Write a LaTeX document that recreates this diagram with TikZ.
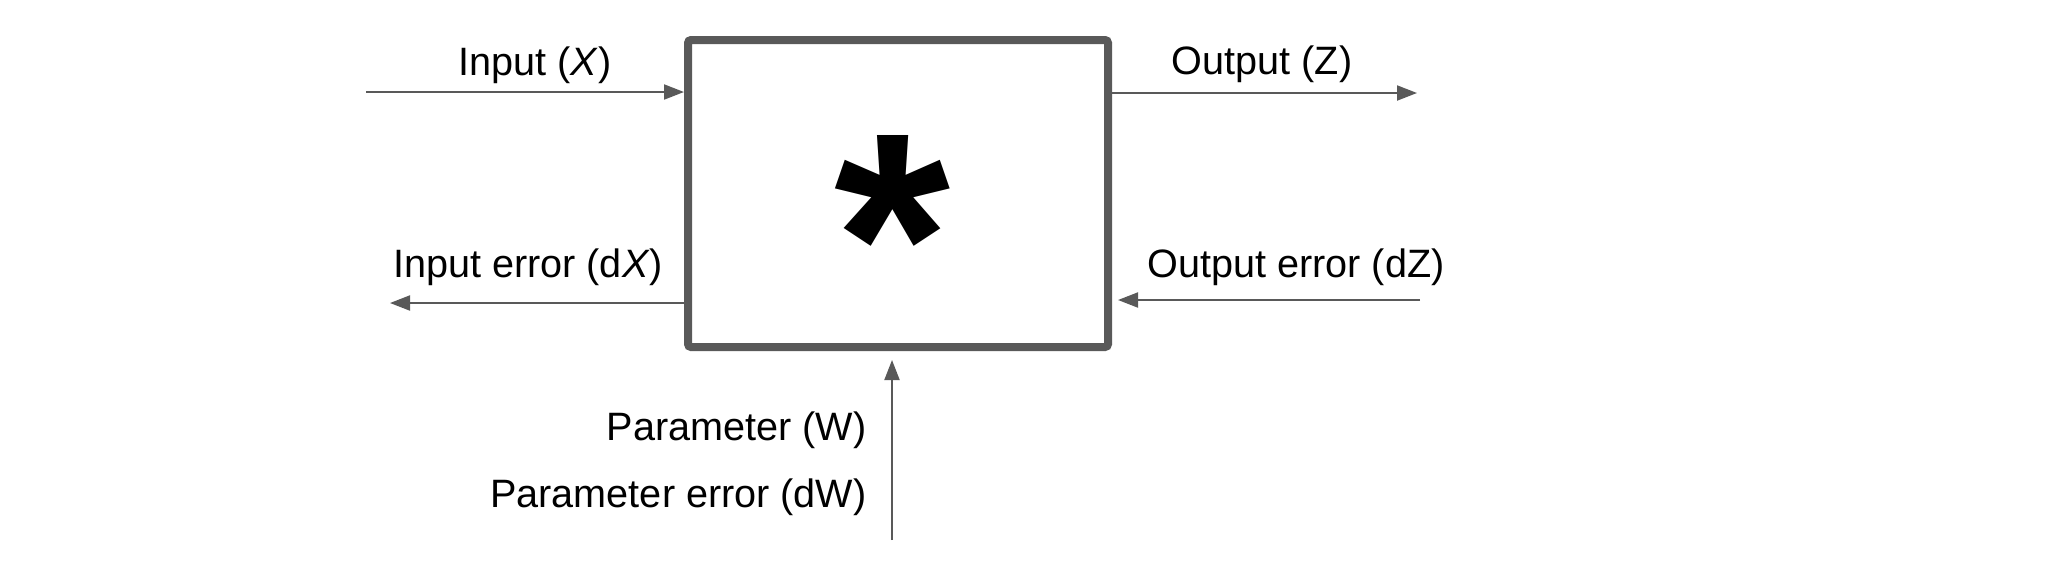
\documentclass[tikz,border=0pt]{standalone}
\usepackage{fontspec}
\setmainfont{Liberation Sans}
\usetikzlibrary{arrows.meta}
\definecolor{lg}{HTML}{595959}
\tikzset{
  lbl/.style={font=\fontsize{19.8}{23}\selectfont, inner sep=0pt, text=black},
  arr/.style={draw=lg, line width=1pt, -{Triangle[length=10pt,width=7.5pt]}},
  opbox/.style={draw=lg, line width=4pt, rounded corners=1.5pt, minimum width=210pt, minimum height=153.5pt, inner sep=0pt}
}
\begin{document}
\begin{tikzpicture}[x=0.5pt,y=-0.5pt]
\useasboundingbox (0,0) rectangle (2048,564);
\node[opbox] (box) at (898,193.5) {};
\node[inner sep=0pt, anchor=base, font=\bfseries\fontsize{149}{150}\selectfont] (star) at (892,340) {*};
% input
\coordinate (inS) at (366,92);
\draw[arr] (inS) -- (inS -| box.west);
\node[lbl, anchor=base] (inL) at (535,75) {Input (\textit{X})};
% input error
\coordinate (ieE) at (390,303);
\draw[arr] (ieE -| box.west) -- (ieE);
\node[lbl, anchor=base] (ieL) at (528,277) {Input error (d\textit{X})};
% output
\coordinate (outE) at (1417,93);
\draw[arr] (outE -| box.east) -- (outE);
\node[lbl, anchor=base] (outL) at (1262,74) {Output (Z)};
% output error
\coordinate (oeS) at (1420,300);
\draw[arr, shorten >=3pt] (oeS) -- (oeS -| box.east);
\node[lbl, anchor=base] (oeL) at (1296,277) {Output error (dZ)};
% parameter
\coordinate (pS) at (892,540);
\draw[arr, shorten >=4.5pt] (pS) -- (pS |- box.south);
\node[lbl, anchor=base east] (pL) at (867,440) {Parameter (W)};
\node[lbl, anchor=base east] (peL) at (867,507) {Parameter error (dW)};
\end{tikzpicture}
\end{document}
